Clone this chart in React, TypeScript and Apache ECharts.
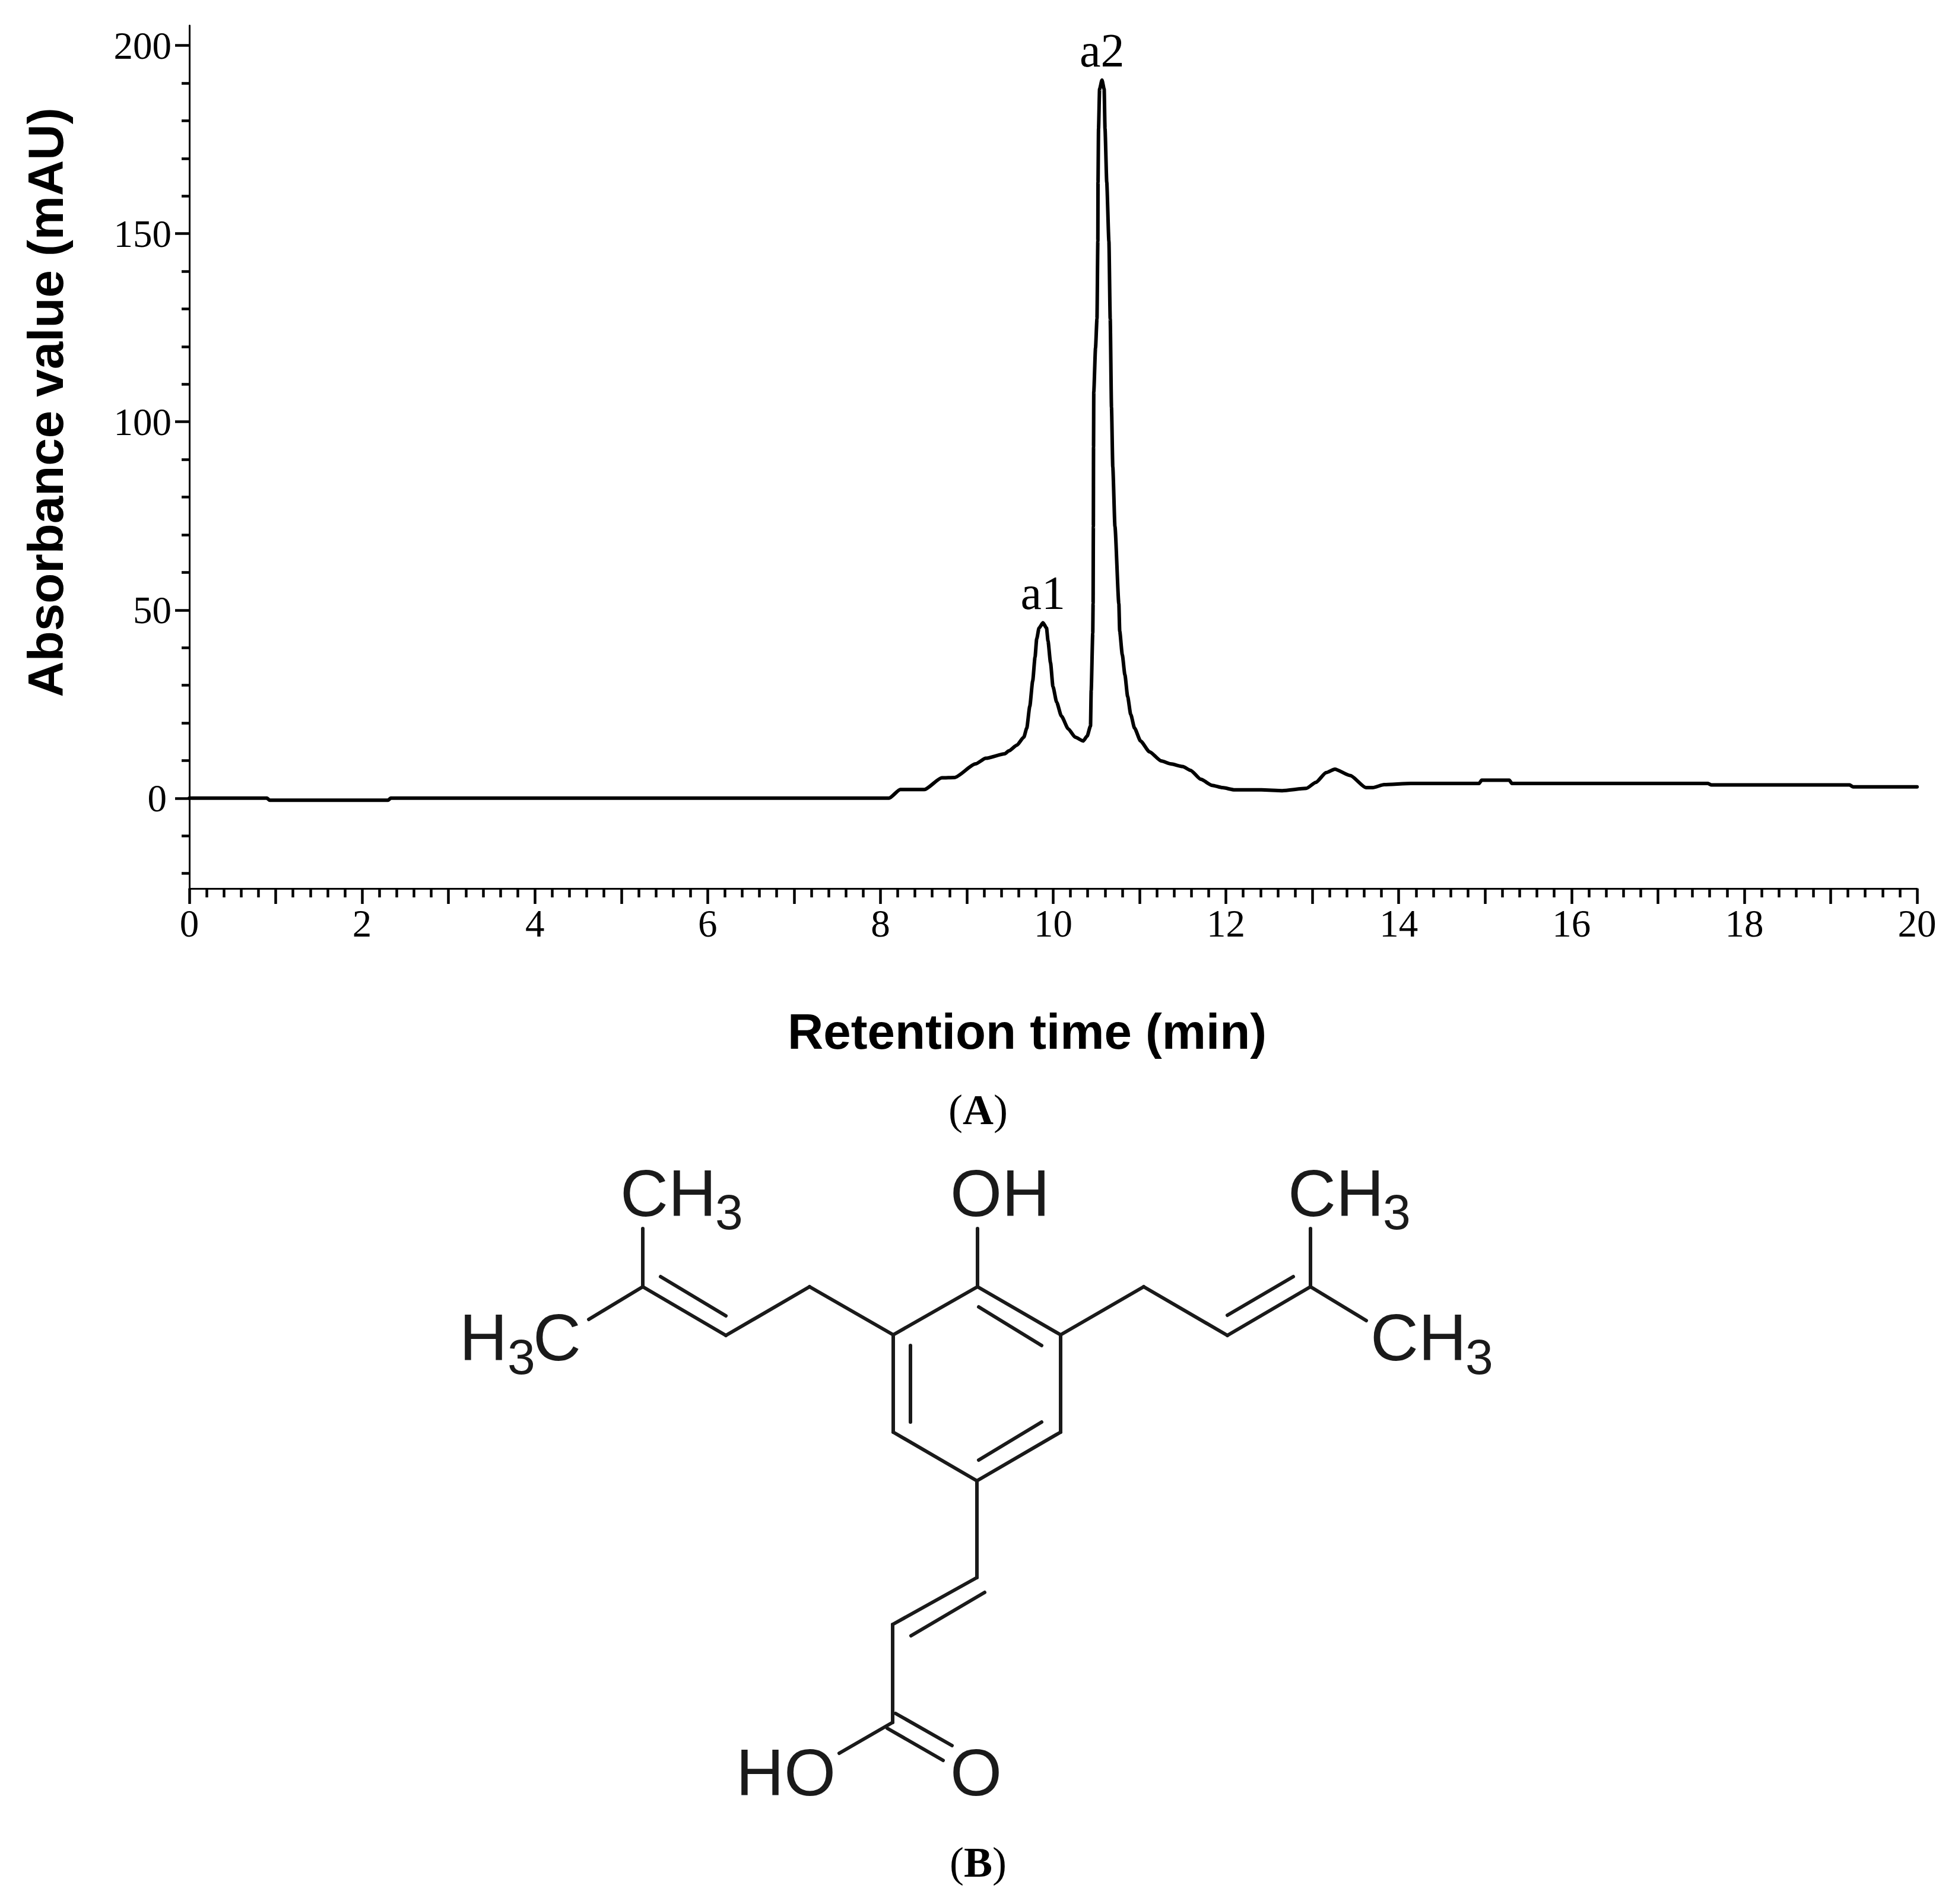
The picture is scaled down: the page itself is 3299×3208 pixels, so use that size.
import React, { useEffect, useRef } from "react";
import * as echarts from "echarts";

const retentionTime = [0, 0.9, 0.93, 2.3, 2.33, 8.1, 8.23, 8.51, 8.71, 8.86, 9.1, 9.22, 9.44, 9.488, 9.58, 9.66, 9.694, 9.729, 9.763, 9.79, 9.809, 9.836, 9.882, 9.923, 9.94, 9.969, 9.997, 10.04, 10.095, 10.175, 10.255, 10.347, 10.393, 10.432, 10.44, 10.458, 10.462, 10.465, 10.467, 10.47, 10.49, 10.507, 10.517, 10.519, 10.525, 10.537, 10.565, 10.59, 10.6, 10.62, 10.645, 10.66, 10.675, 10.69, 10.715, 10.76, 10.77, 10.8, 10.83, 10.862, 10.897, 10.942, 11.011, 11.115, 11.25, 11.36, 11.5, 11.59, 11.71, 11.84, 11.96, 12.1, 12.41, 12.65, 12.93, 13.04, 13.16, 13.26, 13.44, 13.62, 13.7, 13.83, 14.14, 14.93, 14.96, 15.28, 15.31, 17.58, 17.62, 19.22, 19.26, 20];
const absorbance = [0, 0, -0.55, -0.55, 0, 0, 2.3, 2.3, 5.4, 5.5, 9.1, 10.6, 11.8, 12.6, 14.1, 16.2, 18.6, 24.4, 31.2, 37.5, 42.3, 45.2, 46.6, 45.2, 41.8, 36, 29.7, 25.5, 21.8, 18.4, 16.2, 15.2, 16.5, 19.2, 28.6, 43.8, 51.7, 72.2, 93.3, 108, 119.6, 127.4, 148, 163.7, 177.9, 188.4, 190.8, 188.4, 177.9, 163.7, 148, 127.4, 103.8, 88, 72.2, 51.7, 44.4, 38.1, 32.8, 27, 22.3, 18.6, 15.2, 12.3, 9.9, 9.1, 8.4, 7.4, 5, 3.4, 2.8, 2.2, 2.2, 2, 2.6, 4.2, 6.8, 7.7, 6, 2.8, 2.8, 3.6, 3.9, 3.9, 4.8, 4.8, 3.9, 3.9, 3.5, 3.5, 3, 3];
const peakNames = ["a1", "a2"];
const peakTimes = [9.882, 10.565];
const peakValues = [46.6, 190.8];
const yMajorTicks = [0, 50, 100, 150, 200];
const yMinorTicks = [-20, -10, 10, 20, 30, 40, 60, 70, 80, 90, 110, 120, 130, 140, 160, 170, 180, 190];

// Skeletal formula of the compound in panel B: each bond as x1, y1, x2, y2.
const bonds = [
  [1083, 2070, 1083, 2168], [1083, 2168, 992, 2223], [1083, 2168, 1223, 2250], [1113, 2151, 1223, 2217],
  [1223, 2250, 1364, 2168], [1364, 2168, 1505, 2249], [1505, 2249, 1647, 2168], [1647, 2168, 1647, 2070],
  [1647, 2168, 1787, 2249], [1649, 2202, 1755, 2267], [1505, 2249, 1505, 2413], [1534, 2267, 1534, 2396],
  [1505, 2413, 1646, 2495], [1646, 2495, 1787, 2413], [1649, 2460, 1755, 2396], [1787, 2413, 1787, 2249],
  [1787, 2249, 1927, 2168], [1927, 2168, 2068, 2250], [2068, 2250, 2208, 2168], [2068, 2216, 2179, 2151],
  [2208, 2168, 2208, 2070], [2208, 2168, 2302, 2225], [1646, 2495, 1646, 2658], [1646, 2658, 1504, 2737],
  [1659, 2683, 1535, 2756], [1504, 2737, 1504, 2902], [1509, 2887, 1604, 2941], [1495, 2912, 1589, 2966],
  [1504, 2902, 1414, 2954],
];
const atomLabels: [string, number, number, number][] = [
  ["CH", 1045, 2010, 112], ["3", 1205, 2042, 84],
  ["H", 774, 2253, 112], ["3", 855, 2286, 84], ["C", 898, 2253, 112],
  ["OH", 1601, 2010, 112],
  ["CH", 2170, 2010, 112], ["3", 2330, 2042, 84],
  ["CH", 2309, 2253, 112], ["3", 2469, 2286, 84],
  ["HO", 1240, 2986, 112], ["O", 1601, 2986, 112],
];

const SERIF = "Liberation Serif";
const SANS = "Liberation Sans";
const INK = "#000";

function caption(letter: string, y: number) {
  return {
    type: "text", x: 1648, y,
    style: {
      text: `{r|(}{b|${letter}}{r|)}`, align: "center", verticalAlign: "middle",
      rich: {
        r: { fontFamily: SERIF, fontSize: 72, fill: INK },
        b: { fontFamily: SERIF, fontSize: 72, fontWeight: "bold", fill: INK },
      },
    },
  };
}

export default function App() {
  const ref = useRef<HTMLDivElement>(null);
  useEffect(() => {
    const chart = echarts.init(ref.current!, null, { renderer: "svg" });
    const commonY = { type: "value", min: -24, max: 205.3, position: "left", splitLine: { show: false } };
    chart.setOption({
      animation: false,
      backgroundColor: "#fff",
      grid: { left: 319, right: 69, top: 43, bottom: 1711, outerBoundsMode: "none" },
      xAxis: {
        type: "value", min: 0, max: 20, interval: 1,
        name: "Retention time (min)", nameLocation: "middle", nameGap: 199,
        nameTextStyle: { fontFamily: SANS, fontWeight: "bold", fontSize: 83.5, color: INK, padding: [0, 88, 0, 0] },
        splitLine: { show: false },
        axisLine: { onZero: false, lineStyle: { color: INK, width: 3 } },
        axisTick: { length: 26, lineStyle: { color: INK, width: 4.5 } },
        minorTick: { show: true, splitNumber: 5, length: 15, lineStyle: { color: INK, width: 4.5 } },
        axisLabel: {
          fontFamily: SERIF, fontSize: 65, color: INK, margin: 26,
          formatter: (v: number) => (v % 2 === 0 ? String(v) : ""),
        },
      },
      yAxis: [
        {
          ...commonY,
          name: "Absorbance value (mAU)", nameLocation: "middle", nameGap: 200, nameRotate: 90,
          nameTextStyle: { fontFamily: SANS, fontWeight: "bold", fontSize: 83.5, color: INK, padding: [0, 0, 0, 184] },
          axisLine: { show: true, onZero: false, lineStyle: { color: INK, width: 3 } },
          axisTick: { show: true, length: 24, customValues: yMajorTicks, lineStyle: { color: INK, width: 4.5 } },
          axisLabel: {
            fontFamily: SERIF, fontSize: 65, color: INK, margin: 30, customValues: yMajorTicks,
            formatter: (v: number) => (v === 0 ? "{z|0}" : String(v)),
            rich: { z: { fontFamily: SERIF, fontSize: 65, color: INK, padding: [0, 8, 0, 0] } },
          },
        },
        {
          ...commonY,
          axisLine: { show: false },
          axisTick: { show: true, length: 13, customValues: yMinorTicks, lineStyle: { color: INK, width: 4.5 } },
          axisLabel: { show: false },
        },
      ],
      series: [
        {
          type: "line", showSymbol: false, symbol: "none", smooth: 0.2, smoothMonotone: "x", clip: false,
          data: retentionTime.map((t, i) => [t, absorbance[i]]),
          lineStyle: { color: "#000", width: 6, join: "round", cap: "round" },
        },
        {
          type: "scatter", symbolSize: 0, clip: false, itemStyle: { opacity: 1 },
          data: peakTimes.map((t, i) => ({ name: peakNames[i], value: [t, peakValues[i]] })),
          label: {
            show: true, position: "top", distance: 10, formatter: "{b}", opacity: 1,
            fontFamily: SERIF, fontSize: 80, color: INK,
          },
        },
      ],
      graphic: [
        caption("A", 1870),
        caption("B", 3138),
        ...bonds.map(([x1, y1, x2, y2]) => ({
          type: "line", shape: { x1, y1, x2, y2 },
          style: { stroke: "#1a1a1a", lineWidth: 6, lineCap: "round" },
        })),
        ...atomLabels.map(([text, x, y, size]) => ({
          type: "text", x, y,
          style: { text, fontFamily: SANS, fontSize: size, fill: "#1a1a1a", align: "left", verticalAlign: "middle" },
        })),
      ],
    });
    return () => chart.dispose();
  }, []);
  return <div ref={ref} style={{ position: "absolute", left: 0, top: 0, width: 3299, height: 3208 }} />;
}
